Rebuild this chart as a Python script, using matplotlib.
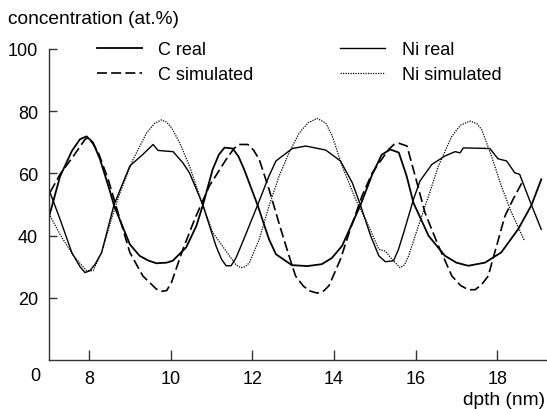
import matplotlib
matplotlib.use("Agg")
import matplotlib.pyplot as plt

plt.rcParams["font.family"] = ["Liberation Sans", "DejaVu Sans"]

# depth (nm) / concentration (at.%)
c_real_x = [7.02, 7.29, 7.58, 7.78, 7.94, 8.1, 8.27, 8.51, 8.61, 9.0, 9.24, 9.45, 9.65, 9.9, 10.05,
            10.38, 10.63, 10.79, 11.03, 11.18, 11.32, 11.52, 11.66, 11.8, 12.13, 12.41, 12.58, 12.97,
            13.35, 13.7, 13.95, 14.2, 14.65, 14.94, 15.17, 15.38, 15.59, 15.78, 15.95, 16.32, 16.72,
            17.0, 17.29, 17.7, 18.1, 18.51, 18.84, 19.08]
c_real_y = [46, 59, 67.2, 71, 71.9, 69.9, 64.5, 54.4, 49.8, 37.2, 33.5, 32, 31.1, 31.3, 31.9,
            36.2, 43.1, 49.8, 61.3, 66, 68.3, 68, 65.5, 61.3, 49.8, 38.8, 34, 30.5,
            30.2, 30.8, 32.8, 36.7, 49.8, 59.7, 66, 67.7, 66.7, 59.2, 50.5, 39.9, 33.5,
            31.3, 30.3, 31.3, 34.6, 42, 49.8, 58.1]

ni_real_x = [7.03, 7.29, 7.58, 7.78, 7.9, 8.02, 8.15, 8.31, 8.61, 9.0, 9.32, 9.57, 9.69, 9.85, 10.06,
             10.3, 10.46, 10.63, 10.79, 11.11, 11.25, 11.36, 11.48, 11.6, 11.76, 12.13, 12.41, 12.58,
             12.98, 13.31, 13.8, 14.16, 14.45, 14.65, 14.9, 15.1, 15.26, 15.46, 15.58, 15.71, 15.95,
             16.11, 16.4, 16.72, 16.97, 17.09, 17.17, 17.82, 18.02, 18.23, 18.43, 18.55, 18.84, 19.08]
ni_real_y = [54.4, 45.3, 34.5, 30, 28.1, 28.7, 30.8, 34.6, 49.8, 62.4, 66.1, 69.3, 67.4, 67.2, 67,
             63.4, 60.2, 54.9, 49.8, 36.7, 32.3, 30.3, 30.3, 32.8, 37.8, 49.8, 59.2, 64,
             68, 68.8, 67.5, 64, 57, 49.8, 39.9, 33.5, 31.6, 31.9, 35.5, 41, 51.7,
             57.6, 62.9, 65.6, 67, 66.6, 68.2, 68, 64.7, 64, 60.2, 59.7, 49.8, 42]

c_sim_x = [7.05, 7.29, 7.62, 7.9, 7.98, 8.1, 8.23, 8.47, 8.71, 9.0, 9.32, 9.65, 9.78, 9.9, 10.02,
           10.3, 10.59, 10.95, 11.36, 11.55, 11.68, 11.89, 12.03, 12.17, 12.41, 12.7, 12.9, 13.06,
           13.25, 13.39, 13.59, 13.75, 13.88, 14.16, 14.4, 14.69, 14.94, 15.34, 15.47, 15.59, 15.79,
           15.99, 16.23, 16.56, 16.89, 17.1, 17.29, 17.46, 17.62, 17.78, 17.94, 18.19, 18.39, 18.63]
c_sim_y = [54, 59.7, 65.6, 70.9, 71.5, 69.5, 66.6, 58.1, 47.4, 34.6, 27, 22.8, 22.1, 22.3, 24.9,
           35.6, 45.3, 56, 64.5, 68, 69.3, 69.3, 67.5, 64.5, 54.9, 42, 33.5, 27,
           23.8, 22.3, 21.5, 22.2, 23.9, 32.4, 42, 52.8, 60.2, 67.7, 69.3, 69.7, 68.8,
           59.2, 47.4, 36.7, 27, 24, 22.6, 22.6, 24.3, 27, 34.6, 46.3, 51.7, 57.6]

ni_sim_x = [7.05, 7.29, 7.62, 7.94, 8.1, 8.31, 8.55, 8.76, 9.08, 9.41, 9.6, 9.77, 9.9, 10.02, 10.22,
            10.46, 10.71, 11.03, 11.44, 11.6, 11.72, 11.83, 11.93, 12.17, 12.41, 12.66, 12.9, 13.15,
            13.37, 13.59, 13.8, 13.96, 14.2, 14.53, 14.85, 15.1, 15.26, 15.42, 15.62, 15.73, 15.83,
            16.07, 16.32, 16.56, 16.89, 17.1, 17.33, 17.5, 17.62, 17.86, 18.1, 18.35, 18.67]
ni_sim_y = [46.3, 40.4, 33.5, 28.7, 28.7, 34.6, 45.3, 53.8, 64.5, 73, 76, 77.2, 76.5, 74.7, 69.9,
            62.4, 52.8, 41, 33.5, 30.6, 29.7, 30, 31.3, 38.8, 49.5, 59.2, 66.6, 73,
            76.3, 77.7, 76.2, 72, 62.4, 51.7, 43.1, 35.6, 35, 32.4, 29.7, 30.6, 33.5,
            43.1, 52.8, 62.4, 72, 75.5, 76.8, 76, 74.1, 65.6, 56, 47.4, 38.3]

x_ticks = [8, 10, 12, 14, 16, 18]
x_labels = ["8", "10", "12", "14", "16", "18"]
y_ticks = [20, 40, 60, 80, 100]
y_labels = ["20", "40", "60", "80", "100"]

fig = plt.figure(figsize=(5.47, 4.10), dpi=100)
ax = fig.add_axes([49 / 547, 1 - 361 / 410, 498 / 547, 311 / 410])

kw = dict(color="black", solid_joinstyle="round", dash_joinstyle="round")
ax.plot(c_real_x, c_real_y, lw=1.3, label="C real", **kw)
ax.plot(c_sim_x, c_sim_y, lw=1.2, linestyle=(0, (6, 2.5)), label="C simulated", **kw)
ax.plot(ni_real_x, ni_real_y, lw=1.0, label="Ni real", **kw)
ax.plot(ni_sim_x, ni_sim_y, lw=0.9, linestyle=(0, (1, 1)), label="Ni simulated", **kw)

ax.set_xlim(7.02, 19.22)
ax.set_ylim(0, 100)
ax.set_xticks(x_ticks, x_labels)
ax.set_yticks(y_ticks, y_labels)
for s in ["top", "right"]:
    ax.spines[s].set_visible(False)
for s in ["left", "bottom"]:
    ax.spines[s].set_color("#333333")
    ax.spines[s].set_linewidth(1.0)
ax.tick_params(axis="x", direction="in", length=7, width=1, color="#333333",
               labelsize=13, pad=7)
ax.tick_params(axis="y", direction="in", length=6, width=1, color="#333333",
               labelsize=13, pad=8)

fig.text(35 / 547, 1 - 377 / 410, "0", fontsize=13, ha="center", va="center")
fig.text(8 / 547, 1 - 19 / 410, "concentration (at.%)", fontsize=13.8, ha="left", va="center")
fig.text(545 / 547, 1 - 401 / 410, "dpth (nm)", fontsize=13.8, ha="right", va="center")

ax.legend(ncol=2, frameon=False, loc="upper left",
          bbox_to_anchor=(97 / 547, 1 - 42 / 410), bbox_transform=fig.transFigure,
          borderpad=0, borderaxespad=0, fontsize=13, handlelength=2.5,
          handletextpad=0.9, columnspacing=4.8, labelspacing=0.45)

fig.savefig("out.png", dpi=100)
